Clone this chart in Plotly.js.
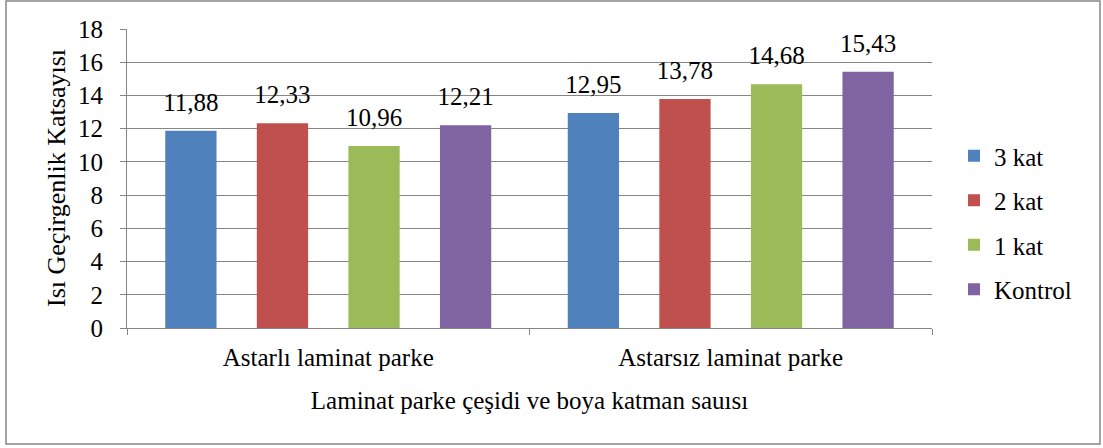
<!DOCTYPE html>
<html><head><meta charset="utf-8">
<script src="https://cdn.plot.ly/plotly-3.0.1.min.js"></script>
<style>body{margin:0;background:#fff}#c{width:1103px;height:448px}</style>
</head><body><div id="c"></div>
<script>
const categories = ["Astarlı laminat parke", "Astarsız laminat parke"];
const seriesNames = ["3 kat", "2 kat", "1 kat", "Kontrol"];
const kat3 = [11.88, 12.95];
const kat2 = [12.33, 13.78];
const kat1 = [10.96, 14.68];
const kontrol = [12.21, 15.43];
const colors = ["#4F81BD", "#C0504D", "#9BBB59", "#8064A2"];
const yTicks = [0, 2, 4, 6, 8, 10, 12, 14, 16, 18];
const yTitle = "Isı Geçirgenlik Katsayısı";
const xTitle = "Laminat parke çeşidi ve boya katman sauısı";

const series = [kat3, kat2, kat1, kontrol];
const font = "Liberation Serif";
const FS = 25;
const fmt = v => v.toFixed(2).replace(".", ",");
const traces = series.map((vals, i) => ({
  type: "bar",
  name: seriesNames[i],
  x: categories,
  y: vals,
  marker: {color: colors[i]},
  offsetgroup: "s" + i,
  legendgroup: "g" + i
}));
series.forEach((vals, i) => traces.push({
  type: "scatter",
  mode: "markers+text",
  x: categories,
  y: vals,
  offsetgroup: "s" + i,
  marker: {size: 20, opacity: 0, color: colors[i]},
  text: vals.map(fmt),
  textposition: "top center",
  textfont: {family: font, size: FS, color: "#000"},
  cliponaxis: false,
  showlegend: false,
  hoverinfo: "skip"
}));

const W = 1103, H = 448, L = 127, R = 171, T = 29, B = 120;
const pw = W - L - R, ph = H - T - B;
const layout = {
  width: W, height: H,
  margin: {l: L, r: R, t: T, b: B},
  paper_bgcolor: "#fff", plot_bgcolor: "#fff",
  font: {family: font, size: FS, color: "#000"},
  barmode: "group",
  bargap: 0.09,
  bargroupgap: 0.44,
  scattermode: "group",
  scattergap: 0.09,
  showlegend: true,
  legend: {x: (954 - L) / pw, xanchor: "left", y: (328 - 133) / ph, yanchor: "top",
           font: {family: font, size: FS, color: "#000"}, tracegroupgap: 9,
           traceorder: "grouped", itemwidth: 30},
  xaxis: {
    type: "category",
    showline: true, linecolor: "#868686", linewidth: 1,
    ticks: "outside", tickson: "boundaries", ticklen: 6, tickcolor: "#868686",
    tickfont: {family: font, size: FS},
    ticklabelstandoff: 7,
    title: {text: xTitle, font: {family: font, size: FS}, standoff: 21},
    showgrid: false, zeroline: false
  },
  yaxis: {
    range: [0, 18], tickvals: yTicks, ticktext: yTicks.map(String),
    showline: true, linecolor: "#868686", linewidth: 1,
    ticks: "outside", ticklen: 6, tickcolor: "#868686",
    ticklabelstandoff: 12,
    showgrid: true, gridcolor: "#868686", gridwidth: 1,
    zeroline: false,
    tickfont: {family: font, size: FS}
  },
  annotations: [{
    text: yTitle, textangle: -90, showarrow: false,
    xref: "paper", yref: "paper", x: (56 - L) / pw, y: (328 - 178) / ph,
    xanchor: "center", yanchor: "middle",
    font: {family: font, size: 26, color: "#000"}
  }],
  shapes: [{
    type: "rect", xref: "paper", yref: "paper",
    x0: (6 - L) / pw, x1: (1100 - L) / pw,
    y0: (H - B - 444) / ph, y1: (H - B - 1) / ph,
    line: {color: "#868686", width: 1.5}, fillcolor: "rgba(0,0,0,0)", layer: "below"
  }]
};
Plotly.newPlot("c", traces, layout, {displayModeBar: false, staticPlot: true});
</script></body></html>
